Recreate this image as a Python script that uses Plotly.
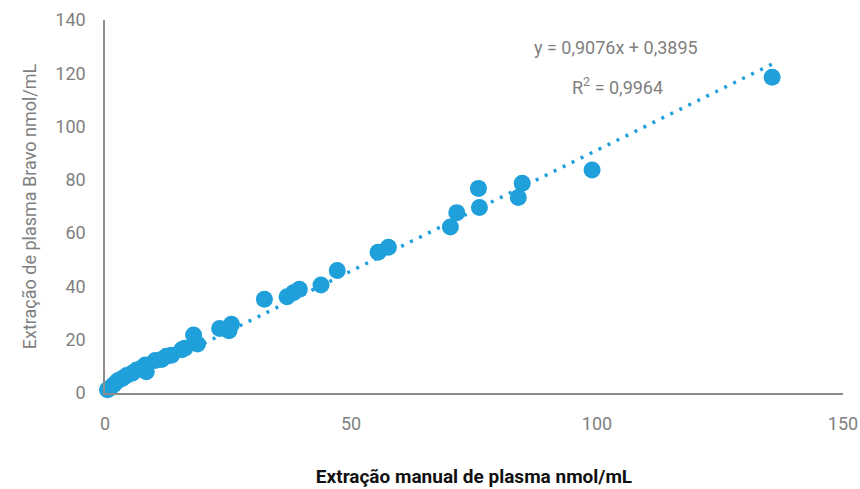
import plotly.graph_objects as go

# Plasma concentrations (nmol/mL): manual extraction vs. Bravo extraction
manual_x = [0.5, 1.0, 1.8, 2.6, 3.5, 4.4, 5.5, 6.4, 7.6, 8.4, 8.2, 10.2, 11.5, 12.5,
            13.5, 15.6, 16.2, 18.0, 18.8, 23.3, 25.2, 25.7, 32.4, 37.0, 38.3, 39.5,
            43.9, 47.2, 55.5, 57.6, 70.2, 71.5, 75.9, 76.1, 84.0, 84.8, 99.0, 135.6]
bravo_y = [1.2, 1.8, 3.2, 4.6, 5.4, 6.6, 7.4, 8.6, 9.6, 8.0, 10.5, 12.2, 12.6, 13.8,
           14.2, 16.2, 16.8, 21.8, 18.4, 24.2, 23.4, 25.8, 35.2, 36.1, 37.6, 38.9,
           40.5, 46.0, 52.8, 54.7, 62.3, 67.7, 76.8, 69.6, 73.4, 78.7, 83.7, 118.5]

# Linear fit reported on the chart
slope = 0.9076
intercept = 0.3895
r_squared = 0.9964

x_ticks = [0, 50, 100, 150]
y_ticks = [0, 20, 40, 60, 80, 100, 120, 140]

BLUE = "#1fa0da"
GRAY = "#7f7f7f"
FONT = "Roboto, sans-serif"

fit_x = [0, max(manual_x)]
fit_y = [slope * v + intercept for v in fit_x]

fig = go.Figure()
fig.add_trace(go.Scatter(
    x=fit_x, y=fit_y, mode="lines",
    line=dict(color=BLUE, width=3.5, dash="3px,7px"),
    hoverinfo="skip", cliponaxis=False,
))
fig.add_trace(go.Scatter(
    x=manual_x, y=bravo_y, mode="markers",
    marker=dict(color=BLUE, size=17, line=dict(width=0)),
    cliponaxis=False,
))

fmt = lambda v: f"{v:.4f}".replace(".", ",")
fig.add_annotation(
    x=0.693, y=0.925, xref="paper", yref="paper", showarrow=False,
    text=f"y = {fmt(slope)}x + {fmt(intercept)}",
    font=dict(family=FONT, size=18, color=GRAY), xanchor="center", yanchor="middle",
)
fig.add_annotation(
    x=0.694, y=0.822, xref="paper", yref="paper", showarrow=False,
    text=f"R<sup>2</sup> = {fmt(r_squared)}",
    font=dict(family=FONT, size=18, color=GRAY), xanchor="center", yanchor="middle",
)

fig.update_layout(
    width=860, height=489,
    margin=dict(l=105, r=17, t=20, b=96, autoexpand=False),
    paper_bgcolor="white", plot_bgcolor="white",
    showlegend=False,
    font=dict(family=FONT, size=18, color=GRAY),
    xaxis=dict(
        range=[0, 150], tickvals=x_ticks, ticktext=[str(t) for t in x_ticks],
        showgrid=False, zeroline=False, showline=True, linecolor="#8c8c8c", linewidth=1.5,
        ticks="", ticklabelstandoff=14, automargin=False,
        tickfont=dict(family=FONT, size=18, color=GRAY),
        title=dict(text="<b>Extração manual de plasma nmol/mL</b>",
                   font=dict(family=FONT, size=19, color="#111111"), standoff=36),
    ),
    yaxis=dict(
        range=[0, 140], tickvals=y_ticks, ticktext=[str(t) for t in y_ticks],
        showgrid=False, zeroline=False, showline=True, linecolor="#8c8c8c", linewidth=1.5,
        ticks="", ticklabelstandoff=14, automargin=False,
        tickfont=dict(family=FONT, size=18, color=GRAY),
        title=dict(text="Extração de plasma Bravo nmol/mL",
                   font=dict(family=FONT, size=18, color=GRAY), standoff=14),
    ),
)

fig.write_html("out.html")
